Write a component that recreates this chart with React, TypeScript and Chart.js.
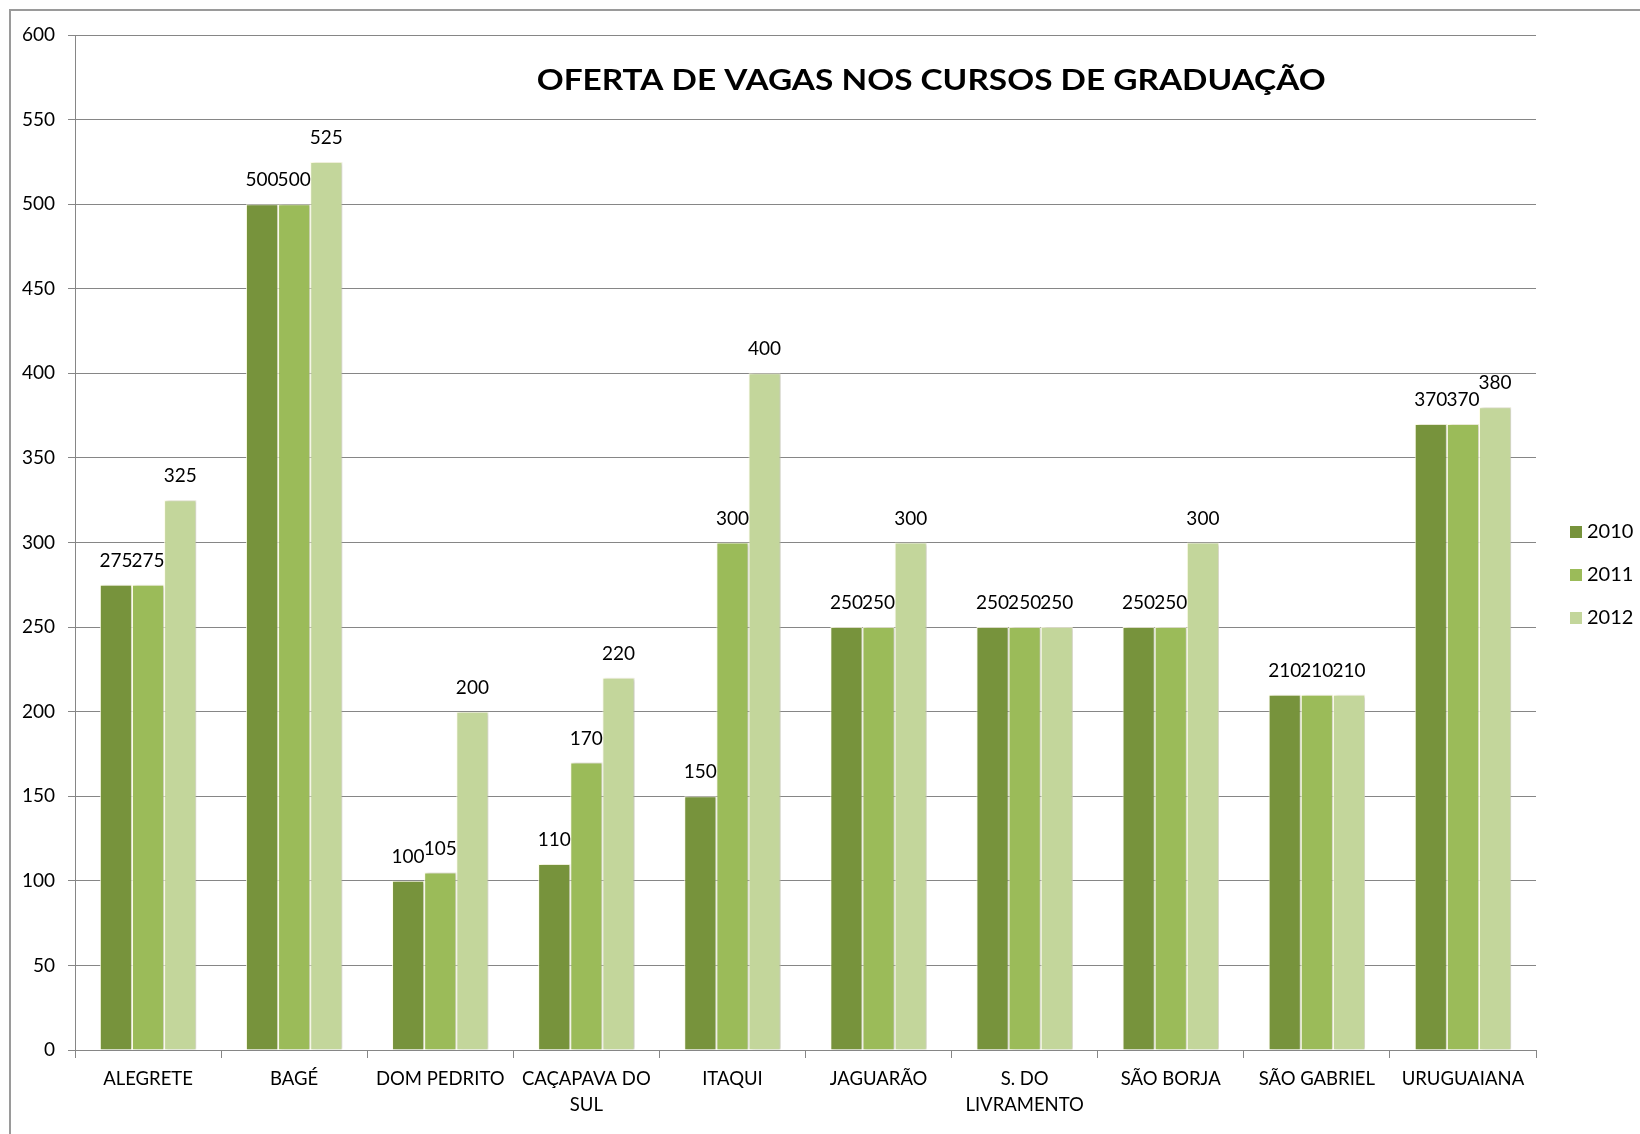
import React, { useEffect, useRef } from "react";
import { Chart, registerables } from "chart.js";

Chart.register(...registerables);

const categories: (string | string[])[] = [
  "ALEGRETE",
  "BAGÉ",
  "DOM PEDRITO",
  ["CAÇAPAVA DO", "SUL"],
  "ITAQUI",
  "JAGUARÃO",
  ["S. DO", "LIVRAMENTO"],
  "SÃO BORJA",
  "SÃO GABRIEL",
  "URUGUAIANA",
];
const seriesNames = ["2010", "2011", "2012"];
const values2010 = [275, 500, 100, 110, 150, 250, 250, 250, 210, 370];
const values2011 = [275, 500, 105, 170, 300, 250, 250, 250, 210, 370];
const values2012 = [325, 525, 200, 220, 400, 300, 250, 300, 210, 380];
const seriesColors = ["#77933C", "#9BBB59", "#C3D69B"];
const titleText = "OFERTA DE VAGAS NOS CURSOS DE GRADUAÇÃO";

const FONT = "Lato, 'Open Sans', sans-serif";

const bgPlugin = {
  id: "bgBorder",
  beforeDraw(chart: any) {
    const { ctx, width, height } = chart;
    ctx.save();
    ctx.fillStyle = "#ffffff";
    ctx.fillRect(0, 0, width, height);
    ctx.strokeStyle = "#9a9a9a";
    ctx.lineWidth = 2;
    ctx.strokeRect(10, 10, width + 20, height + 20);
    ctx.restore();
  },
};

const shadowPlugin = {
  id: "barShadow",
  beforeDatasetDraw(chart: any) {
    const ctx = chart.ctx;
    ctx.save();
    ctx.shadowColor = "rgba(0,0,0,0.22)";
    ctx.shadowOffsetX = 2;
    ctx.shadowOffsetY = 0;
    ctx.shadowBlur = 3;
  },
  afterDatasetDraw(chart: any) {
    chart.ctx.restore();
  },
};

const labelPlugin = {
  id: "valueLabels",
  afterDatasetsDraw(chart: any) {
    const { ctx } = chart;
    ctx.save();
    ctx.font = `19px ${FONT}`;
    ctx.fillStyle = "#000";
    ctx.textAlign = "center";
    ctx.textBaseline = "middle";
    chart.data.datasets.forEach((ds: any, i: number) => {
      const meta = chart.getDatasetMeta(i);
      meta.data.forEach((el: any, j: number) => {
        ctx.fillText(String(ds.data[j]), el.x, el.y - 24);
      });
    });
    ctx.restore();
  },
};

const titlePlugin = {
  id: "innerTitle",
  afterDraw(chart: any) {
    const { ctx, chartArea } = chart;
    ctx.save();
    ctx.font = `bold 29px ${FONT}`;
    ctx.fillStyle = "#000";
    ctx.textAlign = "center";
    ctx.textBaseline = "middle";
    const w = ctx.measureText(titleText).width;
    const targetW = 0.54 * (chartArea.right - chartArea.left);
    const sx = targetW / w;
    const x = chartArea.left + (chartArea.right - chartArea.left) * 0.586;
    ctx.translate(x, chartArea.top + 46);
    ctx.scale(sx, 1);
    ctx.fillText(titleText, 0, 0);
    ctx.restore();
  },
};

const legendPlugin = {
  id: "customLegend",
  afterDraw(chart: any) {
    const { ctx, chartArea } = chart;
    ctx.save();
    ctx.font = `20px ${FONT}`;
    ctx.textAlign = "left";
    ctx.textBaseline = "middle";
    const x0 = chartArea.right + 34;
    const yStart = 532;
    chart.data.datasets.forEach((ds: any, i: number) => {
      const y = yStart + i * 43;
      ctx.fillStyle = ds.backgroundColor;
      ctx.fillRect(x0, y - 6, 12, 12);
      ctx.fillStyle = "#000";
      ctx.fillText(ds.label, x0 + 17, y);
    });
    ctx.restore();
  },
};

export default function App() {
  const ref = useRef<HTMLCanvasElement | null>(null);
  useEffect(() => {
    if (!ref.current) return;
    const seriesValues = [values2010, values2011, values2012];
    const chart = new Chart(ref.current, {
      type: "bar",
      data: {
        labels: categories,
        datasets: seriesNames.map((name, i) => ({
          label: name,
          data: seriesValues[i],
          backgroundColor: seriesColors[i],
          borderColor: "rgba(255,255,230,0.85)",
          borderWidth: 1,
          categoryPercentage: 0.66,
          barPercentage: 1,
        })),
      },
      options: {
        animation: false,
        responsive: false,
        layout: { padding: { top: 35, right: 104, left: 0, bottom: 0 } },
        plugins: {
          legend: { display: false },
          title: { display: false },
          tooltip: { enabled: false },
        },
        scales: {
          x: {
            grid: {
              offset: true,
              drawOnChartArea: false,
              drawTicks: true,
              tickLength: 8,
              color: "#868686",
            },
            border: { display: true, color: "#868686", width: 1 },
            ticks: {
              color: "#000",
              font: { family: FONT, size: 18.5, lineHeight: 1.4 },
              padding: 8,
              maxRotation: 0,
              autoSkip: false,
            },
            afterFit: (scale: any) => {
              scale.height = 84;
            },
          },
          y: {
            min: 0,
            max: 600,
            ticks: {
              stepSize: 50,
              color: "#000",
              font: { family: FONT, size: 19 },
              padding: 13,
            },
            grid: {
              color: "#868686",
              lineWidth: 1,
              drawTicks: true,
              tickLength: 7,
            },
            border: { display: true, color: "#868686", width: 1 },
            afterFit: (scale: any) => {
              scale.width = 75;
            },
          },
        },
      },
      plugins: [bgPlugin, shadowPlugin, labelPlugin, titlePlugin, legendPlugin],
    });
    return () => chart.destroy();
  }, []);
  return (
    <div style={{ position: "fixed", left: 0, top: 0, width: 1640, height: 1134, background: "#fff" }}>
      <canvas ref={ref} width={1640} height={1134} style={{ display: "block" }} />
    </div>
  );
}
